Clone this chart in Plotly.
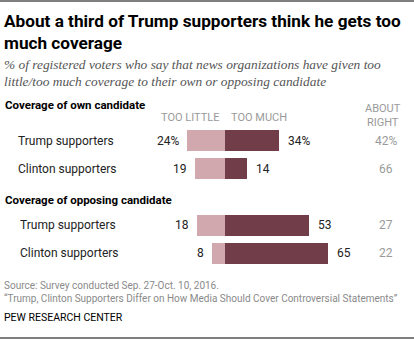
import plotly.graph_objects as go

# ---- data ----
groups = ["Trump supporters", "Clinton supporters", "Trump supporters", "Clinton supporters"]
sections = ["Coverage of own candidate", "Coverage of opposing candidate"]
too_little = [24, 19, 18, 8]
too_much = [34, 14, 53, 65]
about_right = [42, 66, 27, 22]

# ---- layout constants (pixels, y measured from top) ----
W, H = 414, 340
PX_PER_UNIT = 1.58
ZERO_PX = 225
row_y = [140.5, 168.5, 225, 253]
row_label_x = [16, 16, 18, 18]
section_y = [105, 200]
BAR_H = 21
LIGHT = "#D1A8AE"
DARK = "#703D48"
GRAY = "#9a9a9a"
FONT = "Roboto, Arial, sans-serif"

x0 = -ZERO_PX / PX_PER_UNIT
x1 = x0 + W / PX_PER_UNIT

fig = go.Figure()
fig.add_trace(go.Bar(
    y=row_y, x=[-v for v in too_little], base=0, orientation="h",
    width=BAR_H, marker=dict(color=LIGHT, line=dict(width=0)),
    hoverinfo="skip", showlegend=False))
fig.add_trace(go.Bar(
    y=row_y, x=too_much, base=0, orientation="h",
    width=BAR_H, marker=dict(color=DARK, line=dict(width=0)),
    hoverinfo="skip", showlegend=False))

ann = []

def px2x(p):
    return x0 + p / PX_PER_UNIT

for i, (g, tl, tm, ar) in enumerate(zip(groups, too_little, too_much, about_right)):
    sfx = "%" if i == 0 else ""
    ann.append(dict(x=px2x(row_label_x[i]), y=row_y[i], text=g, xanchor="left",
                    font=dict(size=12, color="#222", family=FONT)))
    ann.append(dict(x=-tl, y=row_y[i], text=f"{tl}{sfx}", xanchor="right", xshift=-6,
                    font=dict(size=12, color="#222", family=FONT)))
    ann.append(dict(x=tm, y=row_y[i], text=f"{tm}{sfx}", xanchor="left", xshift=7,
                    font=dict(size=12, color="#222", family=FONT)))
    ann.append(dict(x=px2x(386), y=row_y[i], text=f"{ar}{sfx}", xanchor="center",
                    font=dict(size=12, color=GRAY, family=FONT)))

for s, sy in zip(sections, section_y):
    ann.append(dict(x=px2x(3), y=sy, text=f"<b>{s}</b>", xanchor="left",
                    font=dict(size=11.5, color="#000", family=FONT)))

ann.append(dict(x=px2x(190), y=117, text="TOO LITTLE", xanchor="center",
                font=dict(size=11, color=GRAY, family=FONT)))
ann.append(dict(x=px2x(259), y=117, text="TOO MUCH", xanchor="center",
                font=dict(size=11, color=GRAY, family=FONT)))
ann.append(dict(x=px2x(383), y=115, text="ABOUT<br>RIGHT", xanchor="center",
                font=dict(size=11, color=GRAY, family=FONT)))

# titles & footers
ann.append(dict(x=px2x(2), y=32, text="<b>About a third of Trump supporters think he gets too<br>much coverage</b>",
                xanchor="left", align="left",
                font=dict(size=17.2, color="#000", family=FONT)))
ann.append(dict(x=px2x(2), y=72.5, text="<i>% of registered voters who say that news organizations have given too<br>little/too much coverage to their own or opposing candidate</i>",
                xanchor="left", align="left",
                font=dict(size=13.4, color="#555", family="Liberation Serif, Georgia, serif")))
ann.append(dict(x=px2x(2), y=291.5, text="Source: Survey conducted Sep. 27-Oct. 10, 2016.<br>\u201cTrump, Clinton Supporters Differ on How Media Should Cover Controversial Statements\u201d",
                xanchor="left", align="left",
                font=dict(size=10, color="#8a8a8a", family=FONT)))
ann.append(dict(x=px2x(2), y=317.5, text="PEW RESEARCH CENTER", xanchor="left",
                font=dict(size=10.5, color="#000", family=FONT)))

for a in ann:
    a.update(xref="x", yref="y", yanchor="middle", showarrow=False)

fig.update_layout(
    width=W, height=H, margin=dict(l=0, r=0, t=0, b=0),
    paper_bgcolor="white", plot_bgcolor="white",
    barmode="overlay", bargap=0,
    xaxis=dict(range=[x0, x1], visible=False, fixedrange=True),
    yaxis=dict(range=[H, 0], visible=False, fixedrange=True),
    annotations=ann,
    shapes=[
        dict(type="line", xref="paper", yref="y", x0=0, x1=1, y0=1, y1=1, line=dict(color="#000", width=1.2)),
        dict(type="line", xref="paper", yref="y", x0=0, x1=1, y0=338, y1=338, line=dict(color="#000", width=1.2)),
    ],
)
fig.write_html("out.html")
